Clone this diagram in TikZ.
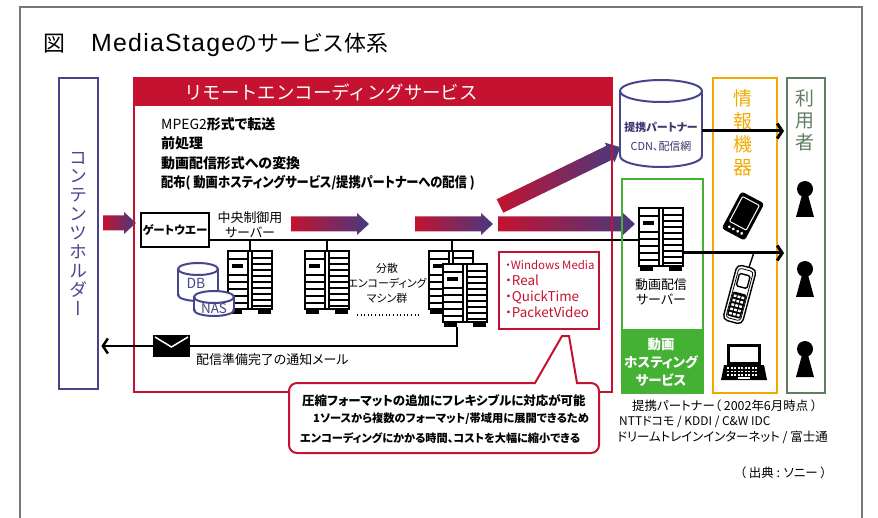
\documentclass[tikz,border=0pt]{standalone}
\usepackage{fontspec}
\setmainfont[RawFeature=+palt]{Noto Sans CJK JP}
\newfontfamily\fullwidth{Noto Sans CJK JP}
\newfontfamily\tatefont[RawFeature=+vert]{Noto Sans CJK JP}
\newfontfamily\titlelatin[LetterSpace=5]{Liberation Sans}
\usetikzlibrary{arrows.meta}

\definecolor{encred}{RGB}{196,18,48}
\definecolor{holdnavy}{RGB}{72,70,138}
\definecolor{gradnavy}{RGB}{70,58,128}
\definecolor{hostgreen}{RGB}{68,176,52}
\definecolor{devorange}{RGB}{242,170,0}
\definecolor{usergreen}{RGB}{96,126,100}
\definecolor{framegray}{RGB}{120,120,120}

% fat shaded arrow: tail centre, angle, length
\def\flowarrow(#1,#2)(#3:#4){%
  \begin{scope}[shift={(#1,#2)}, rotate=#3]
    \shade[left color=encred, right color=gradnavy] (0,-7.5) -- (#4-12,-7.5) -- (#4-12,-11) -- (#4,0) -- (#4-12,11) -- (#4-12,7.5) -- (0,7.5) -- cycle;
  \end{scope}}
% rack server, top left corner
\def\rack(#1,#2){%
  \begin{scope}[shift={(#1,#2)}]
    \fill[white] (0,0) rectangle (44,63);
    \fill (1,57) rectangle (14,63); \fill (30,57) rectangle (43,63);
    \draw[line width=2.6bp] (0,0) rectangle (44,58);
    \draw[line width=1.2bp] (20,0) -- (20,58) (24,0) -- (24,58);
    \foreach \yy in {7,13,...,55} \draw[line width=1.8bp] (24,\yy) -- (44,\yy);
    \foreach \yy in {8,24,31,38,45,52} \draw[line width=1.6bp] (0,\yy) -- (20,\yy);
    \fill (4,13) rectangle (15,17);
  \end{scope}}
% cylinder: centre x, top y, x radius, y radius, height
\def\drum(#1,#2,#3,#4,#5){%
  \fill[white] (#1-#3,#2) rectangle (#1+#3,#2+#5);
  \fill[white] (#1,#2+#5) ellipse (#3 and #4);
  \fill[white] (#1,#2) ellipse (#3 and #4);
  \draw (#1,#2) ellipse (#3 and #4);
  \draw (#1-#3,#2) -- (#1-#3,#2+#5) (#1+#3,#2) -- (#1+#3,#2+#5);
  \begin{scope}
    \clip (#1-#3-3,#2+#5) rectangle (#1+#3+3,#2+#5+#4+3);
    \draw (#1,#2+#5) ellipse (#3 and #4);
  \end{scope}}
% user figure, head centre
\def\person(#1,#2){%
  \fill (#1,#2) circle (8);
  \fill (#1-3,#2+6) -- (#1+3,#2+6) -- (#1+9,#2+28) -- (#1-9,#2+28) -- cycle;}

\tikzset{
  box/.style={anchor=north west, inner sep=0pt, line width=2.4bp},
  lbl/.style={inner sep=0pt, font=\fontsize{13}{15}\selectfont},
  note/.style={inner sep=0pt, font=\fontsize{12.5}{15}\selectfont},
  bus/.style={line width=2bp},
  toline/.style={line width=3bp, -{Straight Barb[length=5bp,width=15bp]}, shorten >=2bp},
}

\begin{document}
\begin{tikzpicture}[x=1bp, y=-1bp]
  \useasboundingbox (0,0) rectangle (878,518);

  %%%%% frame and title %%%%%
  \draw[framegray, line width=1.5bp] (20,518) -- (20,7) -- (862,7) -- (862,518);
  \node[anchor=west, inner sep=0pt, font=\fullwidth\fontsize{22}{24}\selectfont] (title) at (43,45)
    {図\hspace{26bp}{\titlelatin\fontsize{25}{26}\selectfont MediaStage}のサービス体系};

  %%%%% shaded flow arrows %%%%%
  \flowarrow(103,223)(0:33)
  \flowarrow(291,224)(0:78)
  \flowarrow(415,224)(0:78)
  \flowarrow(498,224)(0:137)
  \flowarrow(500,206)(26:134)

  %%%%% content holder %%%%%
  \node[box, draw=holdnavy, minimum width=39bp, minimum height=311bp] (holder) at (58,77) {};
  \node[inner sep=0pt, align=center, text=holdnavy, font=\tatefont\fontsize{18}{19}\selectfont] (holdlbl) at (holder.center)
    {コ\\ン\\テ\\ン\\ツ\\ホ\\ル\\ダ\\ー};

  %%%%% remote encoding service %%%%%
  \node[box, draw=encred, line width=2bp, minimum width=478bp, minimum height=314bp] (enc) at (133,77) {};
  \fill[encred] (enc.north west) rectangle ([yshift=-29bp]enc.north east);
  \node[inner sep=0pt, text=white, font=\fullwidth\fontsize{18.5}{20}\selectfont] (enchead) at (331,92) {リモートエンコーディングサービス};
  \node[anchor=west, inner sep=0pt, align=left, font=\fontsize{14}{19.3}\selectfont\bfseries] (steps) at (161,154)
    {{\mdseries MPEG2}形式で転送\\前処理\\動画配信形式への変換\\\scalebox{0.88}[1]{配布( 動画ホスティングサービス/提携パートナーへの配信 )}};

  \node[draw, line width=2.2bp, minimum width=68bp, minimum height=34bp, inner sep=0pt, font=\fontsize{11.5}{13}\selectfont\bfseries] (gw) at (175,230) {ゲートウエー};
  \node[lbl, align=center] (ctrllbl) at (250,225) {中央制御用\\サーバー};

  \coordinate (hostin) at (639,240);
  \coordinate (ctrltop) at (250,251);
  \coordinate (enc1top) at (327,251);
  \coordinate (enc2top) at (452,251);
  \draw[bus] (gw.east |- hostin) -- (hostin);
  \draw[bus] (ctrltop |- hostin) -- (ctrltop);
  \draw[bus] (enc1top |- hostin) -- (enc1top);
  \draw[bus] (enc2top |- hostin) -- (enc2top);

  \rack(228,251)
  \rack(305,251)
  \rack(429,251)
  \rack(443,264)

  \begin{scope}[holdnavy, line width=2bp]
    \drum(198,269,20,6,26)
    \drum(214,297,20,6,13)
  \end{scope}
  \node[inner sep=0pt, text=holdnavy, font=\fontsize{14}{15}\selectfont] (db) at (196,283) {DB};
  \node[inner sep=0pt, text=holdnavy, font=\fontsize{13.5}{15}\selectfont] (nas) at (214,309) {NAS};

  \node[inner sep=0pt, align=center, font=\fontsize{11}{15}\selectfont] (farmlbl) at (387,283) {分散\\エンコーディング\\マシン群};
  \draw[line width=1bp, dash pattern=on 1bp off 2.6bp] (357,315) -- (420,315);

  % notification mail back to the holder
  \coordinate (farmout) at (457,327);
  \coordinate (mailbend) at (457,346);
  \draw[toline, line width=2.5bp] (farmout) -- (mailbend) -- (mailbend -| holder.east);
  \fill (153,335) rectangle (190,357);
  \draw[white, line width=1.5bp] (155,337) -- (171.5,347) -- (188,337);
  \node[lbl, anchor=west] (maillbl) at (196,360) {配信準備完了の通知メール};

  % output formats
  \node[box, draw=encred, line width=2bp, minimum width=100bp, minimum height=77bp] (fmt) at (498,251) {};
  \node[anchor=west, inner sep=0pt, align=left, text=encred, font=\fontsize{13.5}{16}\selectfont] (fmtlist) at (505,289)
    {{\fontsize{11.5}{16}\selectfont ・Windows Media}\\・Real\\・QuickTime\\・PacketVideo};

  % callout
  \draw[encred, line width=2bp, fill=white] (420,383) [sharp corners] -- (535,383) -- (562,336) -- (569,336) -- (577,383)
    [rounded corners=8bp] -- (599,383) -- (599,453) -- (289,453) -- (289,383) -- (420,383);
  \node[anchor=west, inner sep=0pt, font=\fontsize{12.5}{15}\selectfont\bfseries] (call1) at (302,401) {圧縮フォーマットの追加にフレキシブルに対応が可能};
  \node[anchor=west, inner sep=0pt, font=\fontsize{11.3}{15}\selectfont\bfseries] (call2) at (313,419) {1ソースから複数のフォーマット/帯域用に展開できるため};
  \node[anchor=west, inner sep=0pt, font=\fontsize{11.2}{15}\selectfont\bfseries] (call3) at (300,438) {エンコーディングにかかる時間、コストを大幅に縮小できる};

  %%%%% partners %%%%%
  \begin{scope}[holdnavy, line width=2bp]
    \drum(661,91,41,11,65)
  \end{scope}
  \node[inner sep=0pt, align=center, text=holdnavy!80!black, font=\fontsize{11}{19}\selectfont] (partner) at (661,137)
    {{\bfseries 提携パートナー}\\CDN、配信網};

  %%%%% video hosting %%%%%
  \node[box, draw=hostgreen, minimum width=81bp, minimum height=214bp] (host) at (621,178) {};
  \fill[hostgreen] ([yshift=65bp]host.south west) rectangle (host.south east);
  \rack(639,208)
  \node[lbl, align=center] (hostsrv) at (661,292) {動画配信\\サーバー};
  \node[inner sep=0pt, align=center, text=white, font=\fontsize{13.5}{18}\selectfont\bfseries] (hostlbl) at (661,362) {動画\\ホスティング\\サービス};

  %%%%% devices and users %%%%%
  \node[box, draw=devorange, minimum width=64bp, minimum height=315bp] (dev) at (712,77) {};
  \node[inner sep=0pt, align=center, text=devorange, font=\fullwidth\fontsize{19}{23}\selectfont] (devlbl) at (743,133) {情\\報\\機\\器};
  \node[box, draw=usergreen, minimum width=38bp, minimum height=315bp] (users) at (786,77) {};
  \node[inner sep=0pt, align=center, text=usergreen, font=\fullwidth\fontsize{19}{22}\selectfont] (userlbl) at (805,120) {利\\用\\者};

  \coordinate (cdnout) at (702,131);
  \coordinate (hostout) at (683,253);
  \draw[toline] (cdnout) -- (cdnout -| users.west);
  \draw[toline] (hostout) -- (hostout -| users.west);

  % pda
  \begin{scope}[shift={(743,216)}, rotate=-28]
    \fill[rounded corners=3bp] (-13,-21) rectangle (13,21);
    \draw[white, line width=1bp, rounded corners=1bp] (-9.5,-17) rectangle (9.5,11);
    \foreach \xx in {-7,-2.5,2.5,7} \fill[white] (\xx,16) circle (1.6);
  \end{scope}
  % phone
  \begin{scope}[shift={(740,293)}, rotate=-15]
    \draw[line width=1.4bp] (2,-27) -- (3,-43);
    \draw[line width=1.4bp, rounded corners=5bp] (-10,-27) rectangle (10,30);
    \draw[line width=0.8bp, rounded corners=3bp] (-7.5,-24) rectangle (7.5,27);
    \draw[line width=1.4bp, rounded corners=1.5bp] (-5.5,-19) rectangle (5.5,-6);
    \fill[rounded corners=2bp] (-7,0) rectangle (7,25);
    \foreach \xx in {-4,0,4} \foreach \yy in {4,8.5,...,22} \fill[white] (\xx-1.4,\yy-1.2) rectangle (\xx+1.4,\yy+1.2);
  \end{scope}
  % laptop
  \fill (727,344) rectangle (761,365);
  \fill[white] (730,347) rectangle (758,362);
  \fill (724,365) -- (764,365) -- (767,380) -- (721,380) -- cycle;
  \foreach \yy in {367,370.5,374} \foreach \xx in {727,730.5,...,758} \fill[white] (\xx,\yy) rectangle (\xx+2,\yy+1.8);
  \fill[white] (738,377) rectangle (750,379);

  \person(805,189)
  \person(805,269)
  \person(805,349)

  %%%%% notes %%%%%
  \node[note, anchor=west] (partners) at (632,406) {提携パートナー（ 2002年6月時点 ）};
  \node[note, anchor=west, font=\fontsize{12}{15}\selectfont] (carriers) at (619,422) {NTTドコモ / KDDI / C\&W IDC};
  \node[note, anchor=west] (isps) at (617,437) {ドリームトレインインターネット / 富士通};
  \node[note, anchor=east] (source) at (827,473) {（ 出典 : ソニー ）};
\end{tikzpicture}
\end{document}
